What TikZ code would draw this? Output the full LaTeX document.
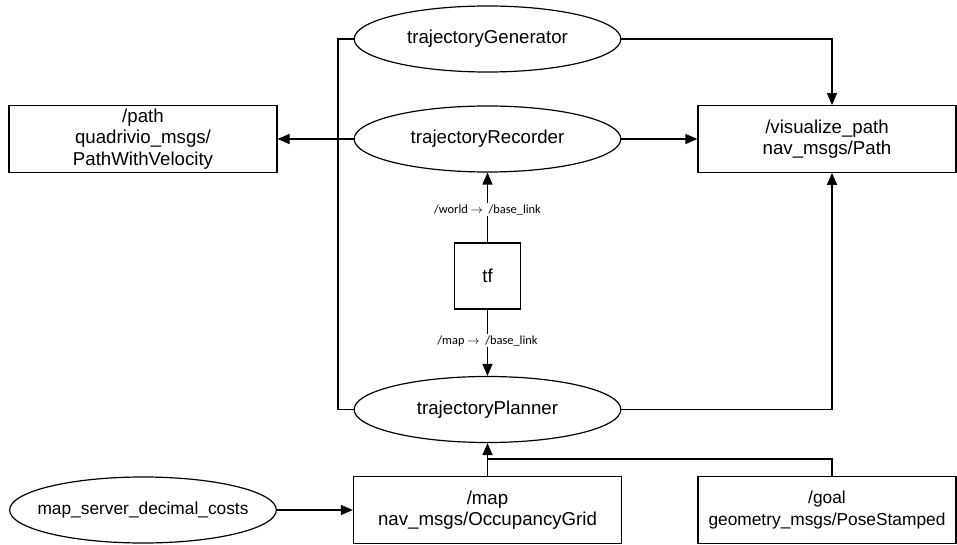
\documentclass[tikz,border=0pt]{standalone}
\usepackage{fontspec}
\setmainfont{Liberation Sans}
\newfontfamily\labelfont{Carlito}
\usetikzlibrary{shapes.geometric,arrows.meta,calc}
\begin{document}
\begin{tikzpicture}[x=0.75pt,y=-0.75pt,
  every node/.style={font=\fontsize{14}{16}\selectfont, align=center, inner sep=0pt},
  proc/.style={draw, ellipse, line width=0.9pt, minimum width=200pt, minimum height=49.5pt, inner xsep=-12pt},
  topic/.style={draw, rectangle, line width=0.9pt, minimum width=201pt, minimum height=50pt},
  wire/.style={line width=0.9pt},
  arr/.style={wire, -{Triangle[length=9pt,width=7.5pt]}},
  tflabel/.style={fill=white, font=\labelfont\fontsize{9.3}{11}\selectfont, inner sep=1pt}]
\useasboundingbox (0,0) rectangle (957,545);

% ROS nodes
\node[proc] (gen)  at (487.5,39)  {trajectoryGenerator};
\node[proc] (rec)  at (487.5,139) {trajectoryRecorder};
\node[proc] (plan) at (487.5,409.5) {trajectoryPlanner};
\node[proc, font=\fontsize{13}{16}\selectfont] (ms) at (143,510) {map\_server\_decimal\_costs};

% topics
\node[topic] (path) at (143,139) {/path\\quadrivio\_msgs/\\PathWithVelocity};
\node[topic, minimum width=193.5pt] (vis) at (827,139) {/visualize\_path\\nav\_msgs/Path};
\node[topic] (map) at (487.5,510) {/map\\nav\_msgs/OccupancyGrid};
\node[topic, minimum width=193.5pt, font=\fontsize{13}{16}\selectfont] (goal) at (827,510) {/goal\\geometry\_msgs/PoseStamped};
\node[draw, rectangle, line width=0.9pt, minimum width=50pt, minimum height=49.5pt] (tf) at (487.5,276) {tf};

% routing helpers
\coordinate (bus) at (338,139);
\coordinate (vx) at (832,0);
\coordinate (jn) at (487.5,459);

% shared /path bus on the left
\draw[wire] (gen.west) -- (gen.west -| bus) -- (plan.west -| bus) -- (plan.west);
\draw[wire] (rec.west) -- (bus);
\draw[arr] (bus) -- (path.east);

% /visualize_path publishers
\draw[arr] (gen.east) -| (vis.north -| vx);
\draw[arr] (rec.east) -- (vis.west);
\draw[arr] (plan.east) -| (vis.south -| vx);

% transforms
\draw[arr] (tf.north) -- node[tflabel, pos=0.47] {/world $\rightarrow$\ \ /base\_link} (rec.south);
\draw[arr] (tf.south) -- node[tflabel, pos=0.47] {/map $\rightarrow$\ \ /base\_link} (plan.north);

% planner inputs
\draw[arr] (ms.east) -- (map.west);
\draw[arr] (map.north) -- (plan.south);
\draw[wire] (goal.north -| vx) |- (jn);
\end{tikzpicture}
\end{document}
